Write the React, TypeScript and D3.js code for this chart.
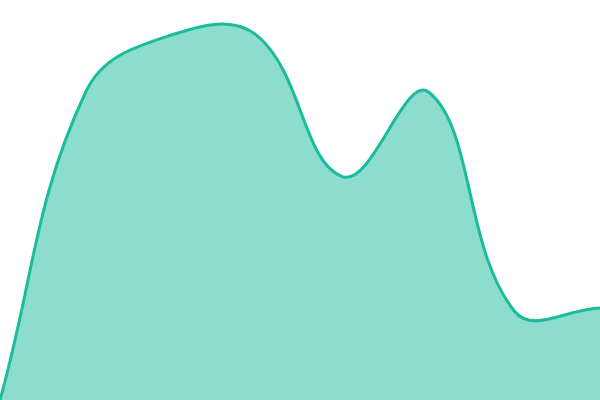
import React from "react";
import * as d3 from "d3";

const categories = ["A", "B", "C", "D", "E", "F", "G", "H"];
const values = [0, 77, 91.25, 91.1, 55.8, 77, 22.25, 23];

const W = 600;
const H = 400;
const TENSION = 0.4;

type Pt = [number, number];

// Spline curve factory (tension-based control points, capped to the plot area)
function curveTension(tension: number) {
  return (context: d3.Path | CanvasRenderingContext2D) => {
    let pts: Pt[] = [];
    let lineFlag = NaN;
    return {
      areaStart() {
        lineFlag = 0;
      },
      areaEnd() {
        lineFlag = NaN;
      },
      lineStart() {
        pts = [];
      },
      point(x: number, y: number) {
        pts.push([+x, +y]);
      },
      lineEnd() {
        const n = pts.length;
        if (n) {
          const cap = (p: Pt): Pt => [
            Math.max(0, Math.min(W, p[0])),
            Math.max(0, Math.min(H, p[1])),
          ];
          const cps = pts.map((cur, i) => {
            const prev = pts[Math.max(0, i - 1)];
            const next = pts[Math.min(n - 1, i + 1)];
            const d01 = Math.hypot(cur[0] - prev[0], cur[1] - prev[1]);
            const d12 = Math.hypot(next[0] - cur[0], next[1] - cur[1]);
            let s01 = d01 / (d01 + d12);
            let s12 = d12 / (d01 + d12);
            if (isNaN(s01)) s01 = 0;
            if (isNaN(s12)) s12 = 0;
            const fa = tension * s01;
            const fb = tension * s12;
            return {
              p: cap([
                cur[0] - fa * (next[0] - prev[0]),
                cur[1] - fa * (next[1] - prev[1]),
              ]),
              n: cap([
                cur[0] + fb * (next[0] - prev[0]),
                cur[1] + fb * (next[1] - prev[1]),
              ]),
            };
          });
          if (lineFlag) context.lineTo(pts[0][0], pts[0][1]);
          else context.moveTo(pts[0][0], pts[0][1]);
          for (let i = 1; i < n; i++) {
            const a = cps[i - 1].n;
            const b = cps[i].p;
            context.bezierCurveTo(a[0], a[1], b[0], b[1], pts[i][0], pts[i][1]);
          }
        }
        if (lineFlag || (lineFlag !== 0 && n === 1)) context.closePath();
        lineFlag = 1 - lineFlag;
      },
    };
  };
}

export default function App() {
  const x = d3.scalePoint<string>().domain(categories).range([0, W]);
  const y = d3.scaleLinear().domain([0, 100]).range([H, 0]);
  const data = categories.map((c, i) => ({ c, v: values[i] }));
  const curve = curveTension(TENSION) as unknown as d3.CurveFactory;
  const area = d3
    .area<{ c: string; v: number }>()
    .x((d) => x(d.c)!)
    .y0(H)
    .y1((d) => y(d.v))
    .curve(curve);
  const line = d3
    .line<{ c: string; v: number }>()
    .x((d) => x(d.c)!)
    .y((d) => y(d.v))
    .curve(curve);
  return (
    <svg
      width={W}
      height={H}
      style={{ position: "absolute", left: 0, top: 0, display: "block" }}
    >
      <path d={area(data)!} fill="#1abc9c" fillOpacity={0.5} />
      <path d={line(data)!} fill="none" stroke="#1abc9c" strokeWidth={3} />
    </svg>
  );
}
